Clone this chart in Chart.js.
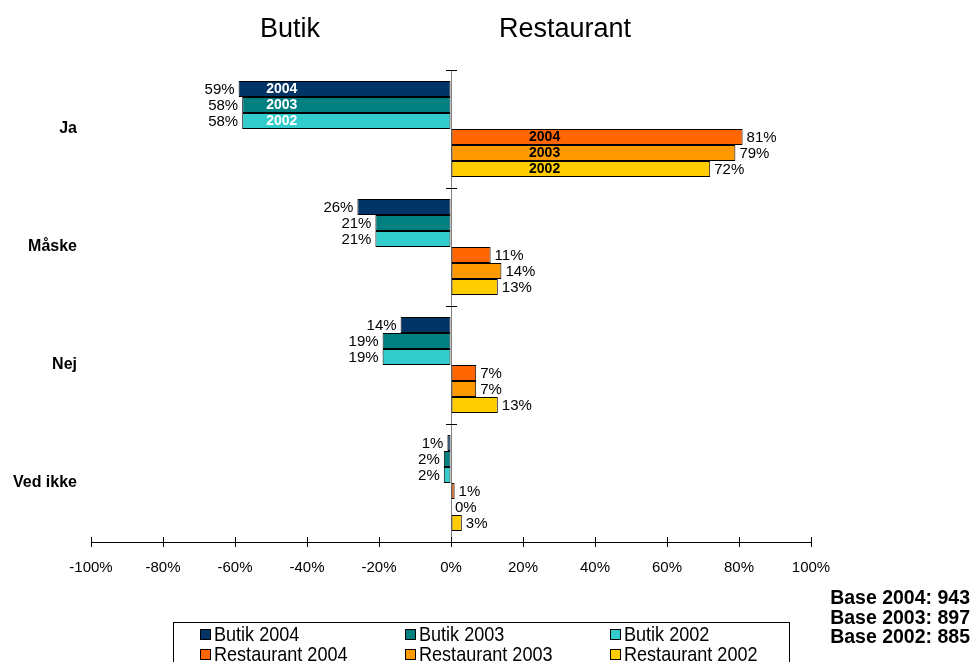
<!DOCTYPE html>
<html>
<head>
<meta charset="utf-8">
<script src="https://cdn.jsdelivr.net/npm/chart.js@4.4.1/dist/chart.umd.min.js"></script>
<style>
  html, body { margin: 0; padding: 0; background: #fff; overflow: hidden; }
  body { width: 974px; height: 662px; position: relative; font-family: "Liberation Sans", Arial, sans-serif; }
  #chart { position: absolute; left: 0; top: 0; }
  .title { position: absolute; top: 13px; font-size: 27px; transform: translateX(-50%); white-space: nowrap; }
  #legend { position: absolute; left: 173px; top: 622px; width: 615px; height: 60px; border: 1px solid #000; }
  .item { position: absolute; font-size: 21px; line-height: 20px; white-space: nowrap; }
  .item span { display: inline-block; width: 9px; height: 9px; border: 1px solid #000; margin-right: 3px; vertical-align: 1px; }
  .item em { display: inline-block; font-style: normal; transform: scaleX(0.86); transform-origin: left center; }
  #base { position: absolute; right: 4px; top: 588px; text-align: right; font-weight: bold; font-size: 19.5px; line-height: 19.5px; }
</style>
</head>
<body>
<canvas id="chart" width="974" height="662"></canvas>
<div class="title" style="left:290px">Butik</div>
<div class="title" style="left:565px">Restaurant</div>
<div id="legend"></div>
<div id="base"></div>
<script>
// svar fordelt på butik og restaurant, tre årgange
const categories = ['Ja', 'Måske', 'Nej', 'Ved ikke'];
const seriesNames = ['Butik 2004', 'Butik 2003', 'Butik 2002', 'Restaurant 2004', 'Restaurant 2003', 'Restaurant 2002'];
const butik2004 = [59, 26, 14, 1];
const butik2003 = [58, 21, 19, 2];
const butik2002 = [58, 21, 19, 2];
const restaurant2004 = [81, 11, 7, 1];
const restaurant2003 = [79, 14, 7, 0];
const restaurant2002 = [72, 13, 13, 3];
const yearTags = ['2004', '2003', '2002', '2004', '2003', '2002'];
const seriesColors = ['#003366', '#008080', '#33CCCC', '#FF6600', '#FF9900', '#FFCC00'];
const xTicks = [-100, -80, -60, -40, -20, 0, 20, 40, 60, 80, 100];
const baseLines = ['Base 2004: 943', 'Base 2003: 897', 'Base 2002: 885'];

// butik tegnes til venstre (negative værdier)
const seriesValues = [
    butik2004.map(v => -v),
    butik2003.map(v => -v),
    butik2002.map(v => -v),
    restaurant2004,
    restaurant2003,
    restaurant2002
];

const datasets = seriesNames.map((name, i) => ({
    label: name,
    data: seriesValues[i],
    backgroundColor: seriesColors[i],
    borderColor: '#000',
    borderWidth: 1,
    borderSkipped: false,
    categoryPercentage: 96 / 118,
    barPercentage: 1
}));

// procent-tal ved enden af søjlerne + årstal i "Ja"-søjlerne
const barLabels = {
    id: 'barLabels',
    afterDatasetsDraw(chart) {
        const ctx = chart.ctx;
        const xs = chart.scales.x;
        ctx.save();
        ctx.textBaseline = 'middle';
        chart.data.datasets.forEach((ds, di) => {
            const meta = chart.getDatasetMeta(di);
            meta.data.forEach((bar, i) => {
                const v = ds.data[i];
                ctx.font = '15px "Liberation Sans", Arial, sans-serif';
                ctx.fillStyle = '#000';
                if (v < 0) {
                    ctx.textAlign = 'right';
                    ctx.fillText(Math.abs(v) + '%', bar.x - 4, bar.y + 1);
                } else {
                    ctx.textAlign = 'left';
                    ctx.fillText(v + '%', bar.x + 4, bar.y + 1);
                }
                if (i === 0) {
                    ctx.font = 'bold 14px "Liberation Sans", Arial, sans-serif';
                    ctx.textAlign = 'center';
                    ctx.fillStyle = v < 0 ? '#fff' : '#000';
                    ctx.fillText(yearTags[di], xs.getPixelForValue(v < 0 ? -47 : 26), bar.y);
                }
            });
        });
        ctx.restore();
    }
};

// små streger på midteraksen og opad på x-aksen
const axisMarks = {
    id: 'axisMarks',
    afterDraw(chart) {
        const ctx = chart.ctx;
        const xs = chart.scales.x;
        const area = chart.chartArea;
        const x0 = xs.getPixelForValue(0);
        ctx.save();
        ctx.strokeStyle = '#000';
        ctx.lineWidth = 1;
        ctx.beginPath();
        const n = categories.length;
        for (let i = 0; i <= n; i++) {
            const y = Math.round(area.top + (area.bottom - area.top) * i / n) + 0.5;
            ctx.moveTo(x0 - 5, y);
            ctx.lineTo(x0 + 6, y);
        }
        xTicks.forEach(t => {
            const x = Math.round(xs.getPixelForValue(t)) + 0.5;
            ctx.moveTo(x, area.bottom - 5);
            ctx.lineTo(x, area.bottom);
        });
        ctx.stroke();
        ctx.restore();
    }
};

Chart.defaults.font.family = '"Liberation Sans", Arial, sans-serif';
Chart.defaults.color = '#000';

new Chart(document.getElementById('chart'), {
    type: 'bar',
    data: { labels: categories, datasets },
    options: {
        indexAxis: 'y',
        responsive: false,
        animation: false,
        layout: { padding: { top: 70, right: 163, bottom: 80, left: 0 } },
        plugins: {
            legend: { display: false },
            tooltip: { enabled: false }
        },
        scales: {
            x: {
                min: -100,
                max: 100,
                afterBuildTicks(scale) { scale.ticks = xTicks.map(v => ({ value: v })); },
                afterFit(scale) { scale.height = 40; },
                ticks: {
                    font: { size: 15 },
                    padding: 12,
                    callback: v => v + '%'
                },
                grid: {
                    color: c => (c.tick && c.tick.value === 0 ? '#808080' : 'rgba(0,0,0,0)'),
                    tickColor: '#000',
                    tickLength: 5
                },
                border: { color: '#000' }
            },
            y: {
                afterFit(scale) { scale.width = 91; },
                ticks: { font: { size: 16, weight: 'bold' }, padding: 6 },
                grid: { display: false },
                border: { display: false }
            }
        }
    },
    plugins: [barLabels, axisMarks]
});

// forklaring under diagrammet
const legend = document.getElementById('legend');
seriesNames.forEach((name, i) => {
    const el = document.createElement('div');
    el.className = 'item';
    el.style.left = (26 + (i % 3) * 205) + 'px';
    el.style.top = (1 + Math.floor(i / 3) * 20) + 'px';
    el.innerHTML = '<span style="background:' + seriesColors[i] + '"></span><em>' + name + '</em>';
    legend.appendChild(el);
});
document.getElementById('base').innerHTML = baseLines.join('<br>');
</script>
</body>
</html>
